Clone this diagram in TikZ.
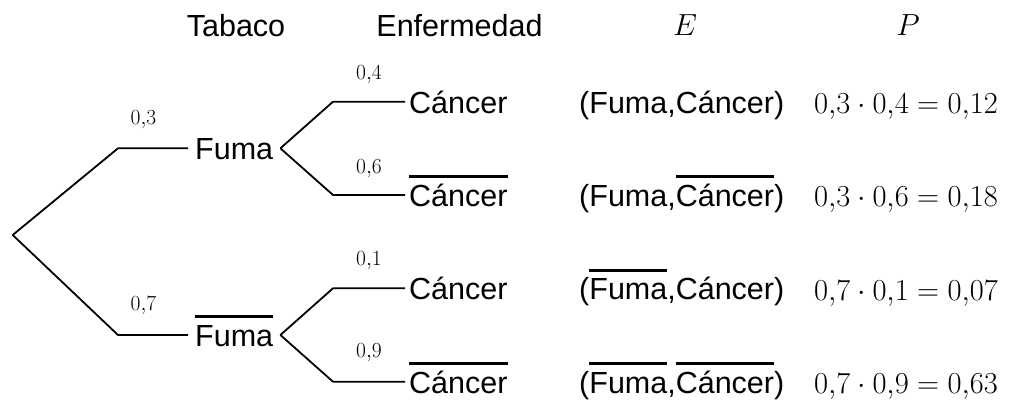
\RequirePackage{fix-cm}
\documentclass[tikz,border=0pt]{standalone}
\usepackage[no-math]{fontspec}
\setmainfont{Liberation Sans}
\newsavebox\ovlbox
\newcommand\ovl[1]{\sbox\ovlbox{#1}\leavevmode\rlap{\rule[28.4pt]{\wd\ovlbox}{2.8pt}}\usebox\ovlbox}
\begin{document}
\begin{tikzpicture}[x=1pt,y=-1pt,
  lbl/.style={font=\fontsize{30.5}{36}\selectfont, inner ysep=0pt, inner xsep=4pt, text height=23.2pt, text depth=0pt, anchor=west},
  fuma/.style={lbl, inner xsep=0pt, minimum width=92pt},
  prob/.style={font=\fontsize{21.5}{26}\selectfont, inner sep=0pt},
  head/.style={font=\fontsize{30.5}{36}\selectfont, inner sep=0pt, anchor=base},
  calc/.style={font=\fontsize{30.5}{36}\selectfont, anchor=base west, inner sep=0pt},
  edge/.style={line width=1.8pt, line join=miter}]
\useasboundingbox (0,0) rectangle (1014,399);
% headers
\node[head] (hT) at (236,36) {Tabaco};
\node[head] (hE) at (459.5,36) {Enfermedad};
\node[head] (hEv) at (685,35) {$E$};
\node[head] (hP) at (908,35) {$P$};
% tree
\coordinate (root) at (12.7,235);
\coordinate (k1) at (118,148.3);
\coordinate (k2) at (118,335);
\node[fuma] (f1) at (188,148.3) {Fuma};
\node[fuma] (f2) at (188,335) {\ovl{Fuma}};
\coordinate (j1) at (333,101.7);
\coordinate (j2) at (333,195);
\coordinate (j3) at (333,288.3);
\coordinate (j4) at (333,381.7);
\node[lbl] (c1) at (405,101.7) {Cáncer};
\node[lbl] (c2) at (405,195) {\ovl{Cáncer}};
\node[lbl] (c3) at (405,288.3) {Cáncer};
\node[lbl] (c4) at (405,381.7) {\ovl{Cáncer}};
\draw[edge] (root) -- (k1) -- (f1.west);
\draw[edge] (root) -- (k2) -- (f2.west);
\draw[edge] (f1.east) -- (j1) -- (c1.west);
\draw[edge] (f1.east) -- (j2) -- (c2.west);
\draw[edge] (f2.east) -- (j3) -- (c3.west);
\draw[edge] (f2.east) -- (j4) -- (c4.west);
% probabilities on branches
\node[prob] (p1) at (143.5,119.5) {$0{,}3$};
\node[prob] (p2) at (143.5,305.5) {$0{,}7$};
\node[prob] (p3) at (369,74.5) {$0{,}4$};
\node[prob] (p4) at (369,168.5) {$0{,}6$};
\node[prob] (p5) at (369,260.5) {$0{,}1$};
\node[prob] (p6) at (369,352.5) {$0{,}9$};
% events
\node[lbl] (e1) at (575,101.7) {(Fuma,Cáncer)};
\node[lbl] (e2) at (575,195) {(Fuma,\ovl{Cáncer})};
\node[lbl] (e3) at (575,288.3) {(\ovl{Fuma},Cáncer)};
\node[lbl] (e4) at (575,381.7) {(\ovl{Fuma},\ovl{Cáncer})};
% products
\node[calc] (q1) at (814,113) {$0{,}3\cdot 0{,}4 = 0{,}12$};
\node[calc] (q2) at (814,206.5) {$0{,}3\cdot 0{,}6 = 0{,}18$};
\node[calc] (q3) at (814,300) {$0{,}7\cdot 0{,}1 = 0{,}07$};
\node[calc] (q4) at (814,393) {$0{,}7\cdot 0{,}9 = 0{,}63$};
\end{tikzpicture}
\end{document}
